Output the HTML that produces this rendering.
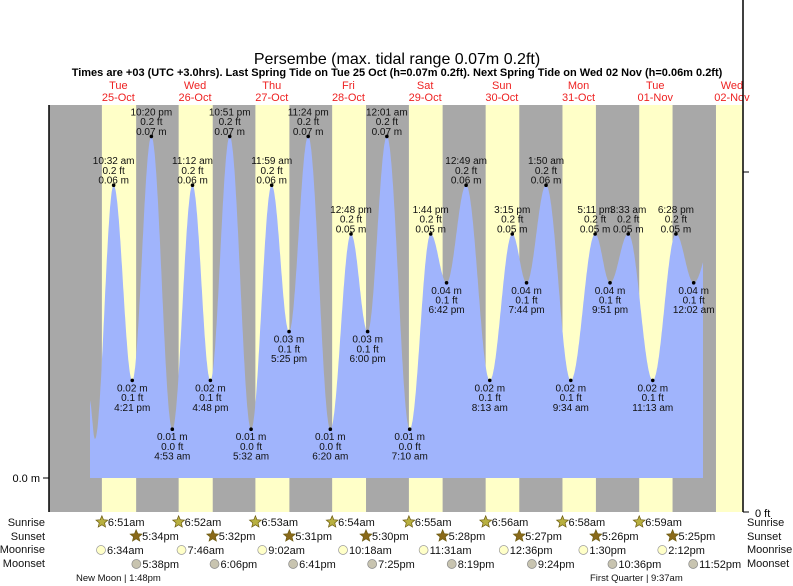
<!DOCTYPE html>
<html><head><meta charset="utf-8"><style>
html,body{margin:0;padding:0;background:#fff;width:793px;height:586px;overflow:hidden}
svg{display:block;font-family:"Liberation Sans",sans-serif}
</style></head><body>
<svg id="chart" width="793" height="586" viewBox="0 0 793 586" xmlns="http://www.w3.org/2000/svg">
<text x="397" y="64" font-size="16" text-anchor="middle" fill="#000">Persembe (max. tidal range 0.07m 0.2ft)</text>
<text x="397" y="76" font-size="11" font-weight="bold" text-anchor="middle" fill="#000">Times are +03 (UTC +3.0hrs). Last Spring Tide on Tue 25 Oct (h=0.07m 0.2ft). Next Spring Tide on Wed 02 Nov (h=0.06m 0.2ft)</text>
<g id="bands"></g><g id="water"></g><g id="marks"></g><g id="axes"></g><g id="bottom"></g>
</svg>
<script>
const dayNames=["Tue","Wed","Thu","Fri","Sat","Sun","Mon","Tue","Wed"];
const dayDates=["25-Oct","26-Oct","27-Oct","28-Oct","29-Oct","30-Oct","31-Oct","01-Nov","02-Nov"];
const sunrise=["6:51am","6:52am","6:53am","6:54am","6:55am","6:56am","6:58am","6:59am","7:00am"];
const sunset=["5:34pm","5:32pm","5:31pm","5:30pm","5:28pm","5:27pm","5:26pm","5:25pm","5:24pm"];
const moonrise=["6:34am","7:46am","9:02am","10:18am","11:31am","12:36pm","1:30pm","2:12pm"];
const moonset=["5:38pm","6:06pm","6:41pm","7:25pm","8:19pm","9:24pm","10:36pm","11:52pm"];
const tideHours=[3.0,4.67,10.53,16.35,22.33,28.88,35.2,40.8,46.85,53.53,59.98,65.42,71.4,78.33,84.8,90,96.02,103.17,109.73,114.7,120.82,128.22,135.25,139.73,145.83,153.57,161.18,165.85,171.55,179.22,186.47,192.03,198.5];
const tideHeights=[0.016,0.008,0.06,0.02,0.07,0.01,0.06,0.02,0.07,0.01,0.06,0.03,0.07,0.01,0.05,0.03,0.07,0.01,0.05,0.04,0.06,0.02,0.05,0.04,0.06,0.02,0.05,0.04,0.05,0.02,0.05,0.04,0.05];
const tideLabels=["","","10:32 am","4:21 pm","10:20 pm","4:53 am","11:12 am","4:48 pm","10:51 pm","5:32 am","11:59 am","5:25 pm","11:24 pm","6:20 am","12:48 pm","6:00 pm","12:01 am","7:10 am","1:44 pm","6:42 pm","12:49 am","8:13 am","3:15 pm","7:44 pm","1:50 am","9:34 am","5:11 pm","9:51 pm","3:33 am","11:13 am","6:28 pm","12:02 am",""];

const NS="http://www.w3.org/2000/svg";
const X0=80, PXH=76.7/24, PL=49, PR=743, PT=105, PB=512;
const xT=h=>X0+h*PXH;
const yH=m=>478-m*4880;
function mk(tag,attrs,parent,text){const e=document.createElementNS(NS,tag);for(const k in attrs)e.setAttribute(k,attrs[k]);if(text!==undefined)e.textContent=text;parent.appendChild(e);return e;}
function parseT(s){const m=s.match(/(\d+):(\d+)\s*(am|pm)/);let h=+m[1]%12;if(m[3]=="pm")h+=12;return h+m[2]/60;}
const bands=document.getElementById('bands'),water=document.getElementById('water'),marks=document.getElementById('marks'),axes=document.getElementById('axes'),bottom=document.getElementById('bottom');

let bg=mk('rect',{x:PL,y:PT,width:PR-PL,height:PB-PT,fill:'#a8a8a8'},bands);


dayNames.forEach((d,i)=>{
  const x1=xT(i*24+parseT(sunrise[i])), x2=Math.min(PR,xT(i*24+parseT(sunset[i])));
  const r=mk('rect',{x:x1,y:PT,width:x2-x1,height:PB-PT,fill:'#ffffc8'},bands);
  
  
  const xn=xT(i*24+12);
  const t1=mk('text',{x:xn,y:89,'font-size':11,'text-anchor':'middle',fill:'#ee2222'},bands,d);
  
  
  const t2=mk('text',{x:xn,y:101,'font-size':11,'text-anchor':'middle',fill:'#ee2222'},bands,dayDates[i]);
  
  
});

function hAt(h){
  for(let i=0;i<tideHours.length-1;i++){
    if(h>=tideHours[i]&&h<=tideHours[i+1]){
      const f=(h-tideHours[i])/(tideHours[i+1]-tideHours[i]);const w=0.5*(1-Math.cos(Math.PI*f));
      return tideHeights[i]+(tideHeights[i+1]-tideHeights[i])*w;}
  }
  return tideHeights[tideHeights.length-1];
}
const hs=(90-X0)/PXH, he=(703-X0)/PXH;
let d='M'+xT(hs)+','+yH(0);
for(let h=hs;h<=he;h+=0.1)d+=' L'+xT(h).toFixed(1)+','+yH(hAt(h)).toFixed(1);
d+=' L'+xT(he)+','+yH(hAt(he))+' L'+xT(he)+','+yH(0)+' Z';
const wp=mk('path',{d:d,fill:'#a0b4fc'},water);



tideHours.forEach((h,i)=>{
  if(!tideLabels[i])return;
  const x=xT(h),y=yH(tideHeights[i]);
  const isHigh=(tideHeights[i]>=tideHeights[i-1]);
  const c=mk('circle',{cx:x,cy:y,r:1.8,fill:'#000'},marks);
  
  
  const ft=(tideHeights[i]*3.28).toFixed(1)+' ft', m=tideHeights[i].toFixed(2)+' m';
  const lines=isHigh?[tideLabels[i],ft,m]:[m,ft,tideLabels[i]];
  const base=isHigh?y-21:y+11;
  lines.forEach((s,k)=>{
    const t=mk('text',{x:x,y:base+k*9.7,'font-size':10,'text-anchor':'middle',fill:'#111'},marks,s);
    
    
  });
});

let a=mk('line',{x1:PL,y1:PT,x2:PL,y2:PB,stroke:'#000','stroke-width':1.5},axes);

a=mk('line',{x1:43,y1:478,x2:49,y2:478,stroke:'#000'},axes);

a=mk('text',{x:40,y:482,'font-size':11,'text-anchor':'end',fill:'#000'},axes,'0.0 m');

a=mk('line',{x1:PR,y1:0,x2:PR,y2:PB,stroke:'#000','stroke-width':1.5},axes);

[172,512].forEach(y=>{a=mk('line',{x1:PR,y1:y,x2:PR+6,y2:y,stroke:'#000'},axes);
});
a=mk('text',{x:755,y:517,'font-size':11,fill:'#000'},axes,'0 ft');


const rows=[["Sunrise",526],["Sunset",540],["Moonrise",553],["Moonset",567]];
rows.forEach(r=>{
  let t=mk('text',{x:45,y:r[1],'font-size':11,'text-anchor':'end',fill:'#111'},bottom,r[0]);
  
  t=mk('text',{x:747,y:r[1],'font-size':11,fill:'#111'},bottom,r[0]);
  
});
function star(cx,cy,fill,name){
  let p='';for(let k=0;k<10;k++){const rr=k%2?2.8:6.2;const an=-Math.PI/2+k*Math.PI/5;p+=(cx+rr*Math.cos(an)).toFixed(1)+','+(cy+rr*Math.sin(an)).toFixed(1)+' ';}
  const s=mk('polygon',{points:p,fill:fill,stroke:'#6b5a10','stroke-width':0.7},bottom);
  
}
function lab(x,y,s,name){const t=mk('text',{x:x,y:y,'font-size':11,fill:'#111'},bottom,s);
  }
for(let i=0;i<8;i++){
  let x=xT(i*24+parseT(sunrise[i]));star(x,522,'#b8b040','sunrise-icon');lab(x+6,526,sunrise[i],'sunrise-time');
  x=xT(i*24+parseT(sunset[i]));star(x,536,'#8a6a1a','sunset-icon');lab(x+6,540,sunset[i],'sunset-time');
  x=xT(i*24+parseT(moonrise[i]));let c=mk('circle',{cx:x,cy:550,r:4.5,fill:'#ffffc8',stroke:'#999','stroke-width':0.7},bottom);
  lab(x+6,554,moonrise[i],'moonrise-time');
  x=xT(i*24+parseT(moonset[i]));c=mk('circle',{cx:x,cy:564,r:4.5,fill:'#c8c4b0',stroke:'#888','stroke-width':0.7},bottom);
  lab(x+6,568,moonset[i],'moonset-time');
}
let ph=mk('text',{x:76,y:581,'font-size':9.5,fill:'#111'},bottom,'New Moon | 1:48pm');

ph=mk('text',{x:590,y:581,'font-size':9.5,fill:'#111'},bottom,'First Quarter | 9:37am');

</script>
</body></html>
